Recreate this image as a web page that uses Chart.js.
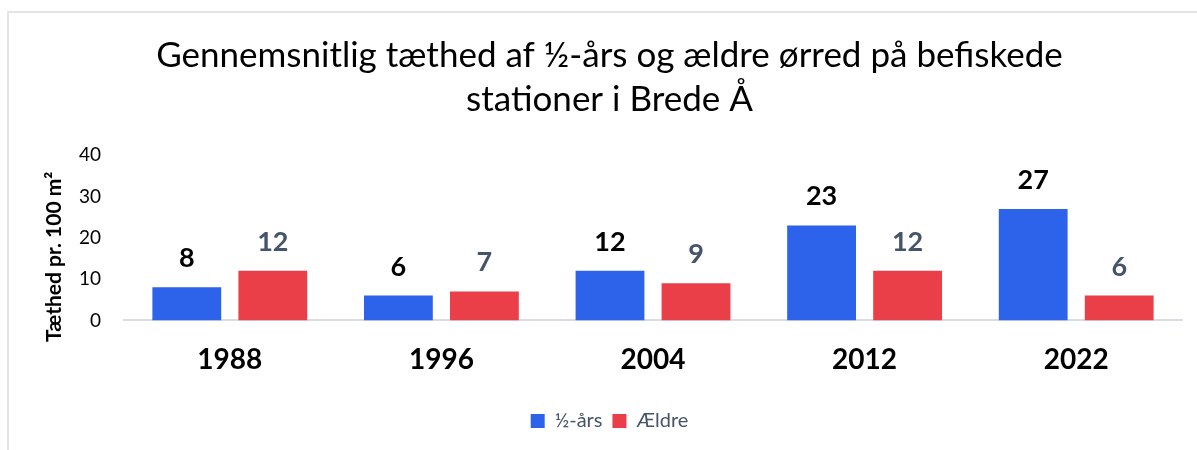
<!DOCTYPE html>
<html>
<head>
<meta charset="utf-8">
<script src="https://cdn.jsdelivr.net/npm/chart.js@4.4.0/dist/chart.umd.min.js"></script>
<style>
  html, body { margin: 0; padding: 0; background: #fff; overflow: hidden; }
  .wrap {
    position: absolute; left: 7px; top: 11px; width: 1188px; height: 437px;
    border-left: 2px solid #e1e5ea; border-top: 2px solid #e1e5ea;
  }
  canvas { display: block; }
</style>
</head>
<body>
<div class="wrap"><canvas id="chart"></canvas></div>
<script>
const years = ["1988", "1996", "2004", "2012", "2022"];
const halfYear = [8, 6, 12, 23, 27];
const older = [12, 7, 9, 12, 6];
const yTicks = [0, 10, 20, 30, 40];
const yTitle = "Tæthed pr. 100 m²";

const FONT = "Lato";

// draws the value above each bar
const valueLabels = {
  id: "valueLabels",
  afterDatasetsDraw(chart) {
    const ctx = chart.ctx;
    ctx.save();
    ctx.font = `bold 27px ${FONT}`;
    ctx.textAlign = "center";
    ctx.textBaseline = "alphabetic";
    chart.data.datasets.forEach((ds, i) => {
      const meta = chart.getDatasetMeta(i);
      ctx.fillStyle = ds.labelColor;
      meta.data.forEach((bar, j) => {
        ctx.fillText(ds.data[j], bar.x, bar.y - 20);
      });
    });
    ctx.restore();
  },
};

// y axis title, sits a bit lower than the plot centre like the original
const axisTitle = {
  id: "axisTitle",
  afterDraw(chart) {
    const { ctx, chartArea } = chart;
    ctx.save();
    ctx.translate(chartArea.left - 70, (chartArea.top + chartArea.bottom) / 2 + 19);
    ctx.rotate(-Math.PI / 2);
    ctx.font = `bold 21px ${FONT}`;
    ctx.fillStyle = "#000";
    ctx.textAlign = "center";
    ctx.textBaseline = "middle";
    ctx.fillText(yTitle, 0, 0);
    ctx.restore();
  },
};

const ctx = document.getElementById("chart").getContext("2d");
new Chart(ctx, {
  type: "bar",
  data: {
    labels: years,
    datasets: [
      {
        label: "½-års",
        data: halfYear,
        backgroundColor: "#2d62ea",
        labelColor: "#000000",
        categoryPercentage: 0.813,
        barPercentage: 0.8,
      },
      {
        label: "Ældre",
        data: older,
        backgroundColor: "#ea3e49",
        labelColor: "#44546a",
        categoryPercentage: 0.813,
        barPercentage: 0.8,
      },
    ],
  },
  options: {
    responsive: true,
    maintainAspectRatio: false,
    animation: false,
    layout: { padding: { left: 28, right: 15, top: 21, bottom: 9 } },
    plugins: {
      title: {
        display: true,
        text: ["Gennemsnitlig tæthed af ½-års og ældre ørred på befiskede", "stationer i Brede Å"],
        color: "#000",
        font: { family: FONT, size: 35, weight: "normal", lineHeight: 1.26 },
        padding: { top: 0, bottom: 33 },
      },
      legend: {
        position: "bottom",
        labels: {
          color: "#44546a",
          font: { family: FONT, size: 20 },
          boxWidth: 14,
          boxHeight: 14,
          padding: 10,
        },
      },
      tooltip: { enabled: false },
    },
    scales: {
      x: {
        grid: { display: false, drawTicks: false },
        border: { color: "#d9dde3", width: 2 },
        ticks: {
          color: "#000",
          font: { family: FONT, size: 28, weight: "bold" },
          padding: 23,
        },
        afterFit: (scale) => {
          scale.height += 1;
        },
      },
      y: {
        min: 0,
        max: 40,
        afterBuildTicks: (axis) => {
          axis.ticks = yTicks.map((v) => ({ value: v }));
        },
        afterFit: (scale) => {
          scale.width = 87;
        },
        grid: { display: false, drawTicks: false },
        border: { display: false },
        ticks: {
          color: "#000",
          font: { family: FONT, size: 19 },
          padding: 23,
        },
      },
    },
  },
  plugins: [valueLabels, axisTitle],
});
</script>
</body>
</html>
